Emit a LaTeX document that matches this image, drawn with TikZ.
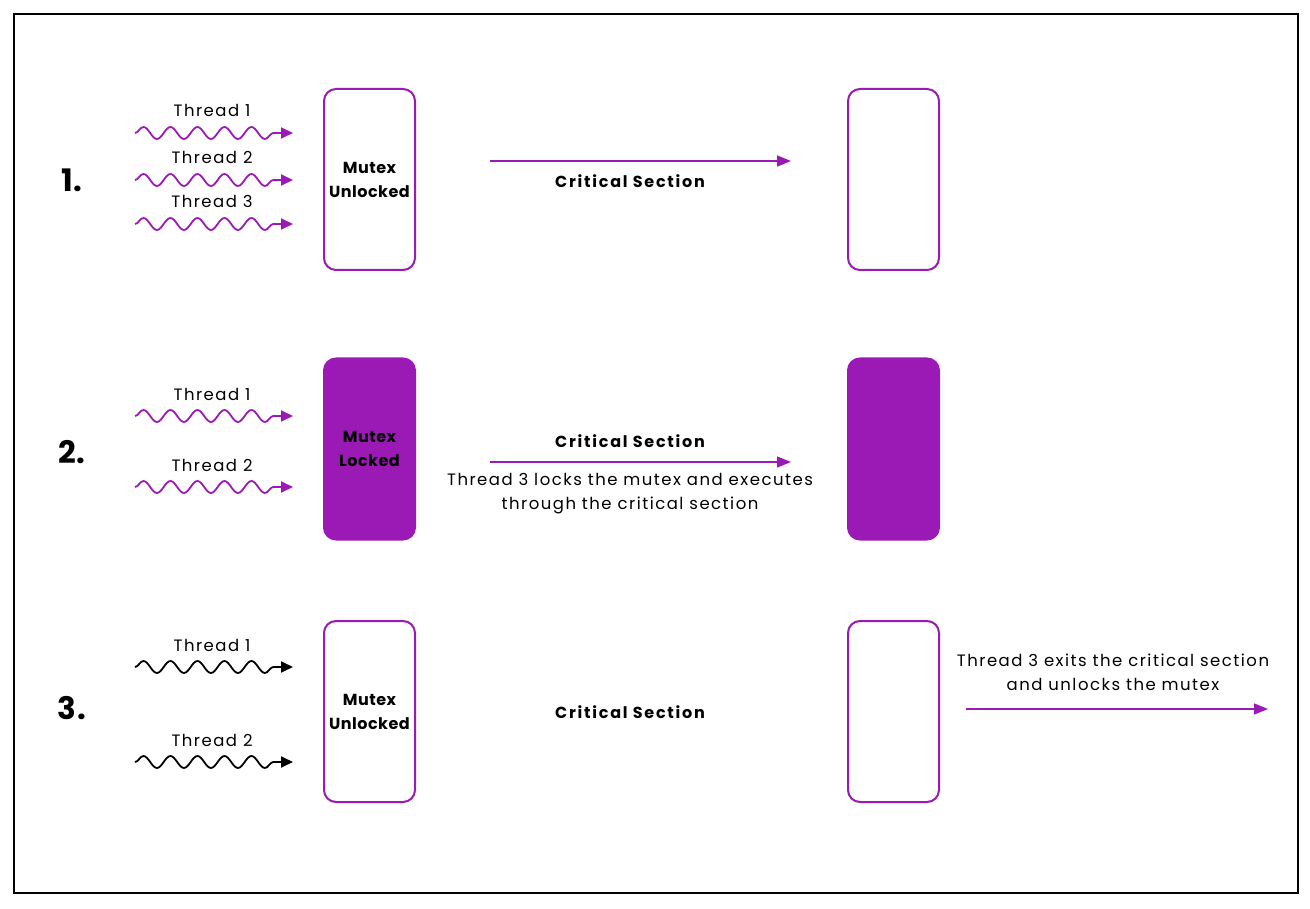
\documentclass[tikz,border=0pt]{standalone}
\usepackage{fontspec}
\setmainfont{Poppins}
\usetikzlibrary{arrows.meta,decorations.pathmorphing}
\definecolor{mutexpurple}{RGB}{155,25,180}

\begin{document}
\begin{tikzpicture}[x=1pt,y=-1pt,
    box/.style={draw=mutexpurple,line width=2pt,rounded corners=12pt,minimum width=91pt,minimum height=181pt,inner sep=0pt,align=center,font=\fontsize{16}{24}\selectfont\bfseries\addfontfeatures{LetterSpace=3}},
    lockedbox/.style={box,fill=mutexpurple},
    label/.style={font=\fontsize{16.5}{24}\selectfont\addfontfeatures{LetterSpace=9},align=center,inner sep=0pt},
    bold/.style={font=\fontsize{16}{24}\selectfont\bfseries\addfontfeatures{LetterSpace=11},inner sep=0pt},
    stepno/.style={font=\fontsize{31}{31}\selectfont\bfseries\addfontfeatures{LetterSpace=3},inner sep=0pt},
    thread/.style={draw=#1,line width=1.8pt,-{Triangle[length=12pt,width=11pt]},decorate,decoration={snake,segment length=27pt,amplitude=6pt,post length=12pt}},
    thread/.default=mutexpurple,
    flow/.style={draw=mutexpurple,line width=1.5pt,-{Triangle[length=14pt,width=11pt]}}]
  \useasboundingbox (0,0) rectangle (1310,909);
  \draw[line width=2pt] (14,14) rectangle (1298,893);
  % 1.
  \node[stepno] (n1) at (72,180) {1.};
  \node[label] (t11) at (212,110) {Thread 1};
  \node[label] (t12) at (212,157) {Thread 2};
  \node[label] (t13) at (212,201) {Thread 3};
  \coordinate (a11) at (135,133); \coordinate (b11) at (293,133);
  \coordinate (a12) at (135,180); \coordinate (b12) at (293,180);
  \coordinate (a13) at (135,224); \coordinate (b13) at (293,224);
  \draw[thread] (a11) -- (b11);
  \draw[thread] (a12) -- (b12);
  \draw[thread] (a13) -- (b13);
  \node[box] (m1) at (369.5,179.5) {Mutex\\Unlocked};
  \node[box] (c1) at (893.5,179.5) {};
  \coordinate (s1) at (490,161); \coordinate (e1) at (791,161);
  \draw[flow] (s1) -- (e1);
  \node[bold] (cs1) at (630,181) {Critical Section};
  % 2.
  \node[stepno] (n2) at (72,452) {2.};
  \node[label] (t21) at (212,394) {Thread 1};
  \node[label] (t22) at (212,465) {Thread 2};
  \coordinate (a21) at (135,416); \coordinate (b21) at (293,416);
  \coordinate (a22) at (135,487); \coordinate (b22) at (293,487);
  \draw[thread] (a21) -- (b21);
  \draw[thread] (a22) -- (b22);
  \node[lockedbox] (m2) at (369.5,449) {Mutex\\Locked};
  \node[lockedbox] (c2) at (893.5,449) {};
  \node[bold] (cs2) at (630,441) {Critical Section};
  \coordinate (s2) at (490,462); \coordinate (e2) at (791,462);
  \draw[flow] (s2) -- (e2);
  \node[label] (d2) at (630,494) {Thread 3 locks the mutex and executes\\through the critical section};
  % 3.
  \node[stepno] (n3) at (72,708) {3.};
  \node[label] (t31) at (212,645) {Thread 1};
  \node[label] (t32) at (212,740) {Thread 2};
  \coordinate (a31) at (135,667); \coordinate (b31) at (293,667);
  \coordinate (a32) at (135,762); \coordinate (b32) at (293,762);
  \draw[thread=black] (a31) -- (b31);
  \draw[thread=black] (a32) -- (b32);
  \node[box] (m3) at (369.5,711.5) {Mutex\\Unlocked};
  \node[box] (c3) at (893.5,711.5) {};
  \node[bold] (cs3) at (630,712) {Critical Section};
  \node[label] (d3) at (1113,672) {Thread 3 exits the critical section\\and unlocks the mutex};
  \coordinate (s3) at (966,709); \coordinate (e3) at (1268,709);
  \draw[flow] (s3) -- (e3);
\end{tikzpicture}
\end{document}
